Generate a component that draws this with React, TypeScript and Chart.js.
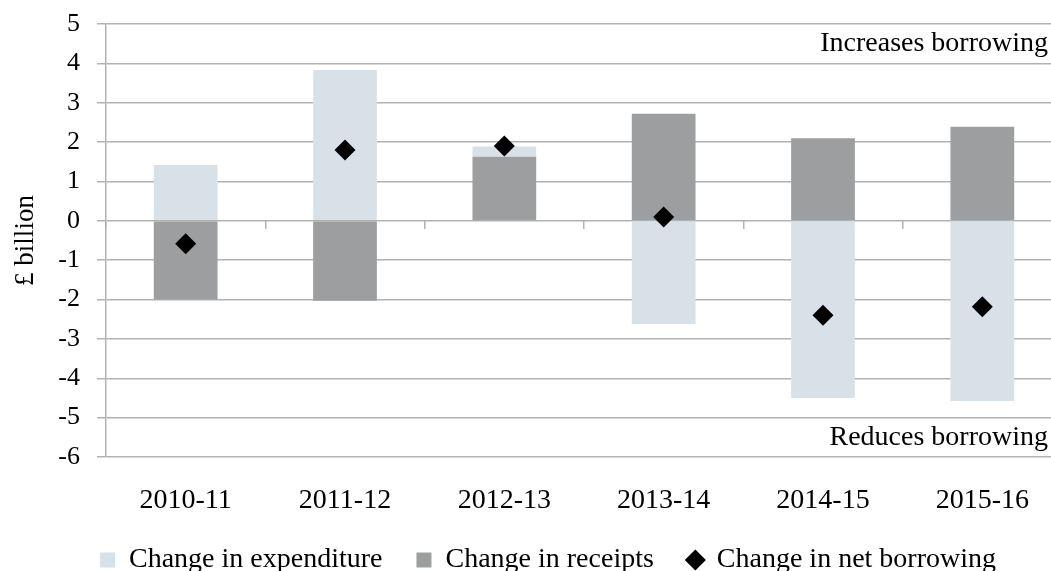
import React, { useEffect, useRef } from 'react';
import { Chart, registerables } from 'chart.js';

Chart.register(...registerables);

const categories = ['2010-11', '2011-12', '2012-13', '2013-14', '2014-15', '2015-16'];
const expenditure = [1.42, 3.83, 0.26, -2.62, -4.5, -4.58];
const receipts = [-2.0, -2.03, 1.63, 2.72, 2.1, 2.39];
const netBorrowing = [-0.58, 1.8, 1.9, 0.1, -2.4, -2.18];
const seriesNames = ['Change in expenditure', 'Change in receipts', 'Change in net borrowing'];
const yMin = -6;
const yMax = 5;
const yStep = 1;
const yTitle = '£ billion';
const noteTexts = ['Increases borrowing', 'Reduces borrowing'];
const noteValues = [4.5, -5.5];

const FONT = "'Liberation Serif', 'Times New Roman', serif";
const GRID = '#b2b2b2';
const LIGHT = '#d9e1e8';
const DARK = '#9d9ea0';

export default function App() {
  const ref = useRef<HTMLCanvasElement>(null);

  useEffect(() => {
    if (!ref.current) return;
    Chart.defaults.font.family = FONT;
    Chart.defaults.color = '#000';

    const notesPlugin = {
      id: 'sideNotes',
      afterDatasetsDraw(chart: any) {
        const { ctx, chartArea, scales } = chart;
        ctx.save();
        ctx.font = `28px ${FONT}`;
        ctx.fillStyle = '#000';
        ctx.textAlign = 'right';
        ctx.textBaseline = 'middle';
        noteTexts.forEach((t, i) => {
          ctx.fillText(t, chartArea.right - 14, scales.y.getPixelForValue(noteValues[i]));
        });
        ctx.restore();
      },
    };

    const legendRank = [1, 0, 2];

    const chart = new Chart(ref.current, {
      type: 'bar',
      data: {
        labels: categories,
        datasets: [
          {
            type: 'bar',
            label: seriesNames[1],
            data: receipts,
            backgroundColor: DARK,
            borderWidth: 0,
            pointStyle: 'rect',
            barPercentage: 0.4,
            categoryPercentage: 1,
            stack: 'flows',
          } as any,
          {
            type: 'bar',
            label: seriesNames[0],
            data: expenditure,
            backgroundColor: LIGHT,
            borderWidth: 0,
            pointStyle: 'rect',
            barPercentage: 0.4,
            categoryPercentage: 1,
            stack: 'flows',
          } as any,
          {
            type: 'line',
            label: seriesNames[2],
            data: netBorrowing,
            showLine: false,
            pointStyle: 'rectRot',
            pointRadius: 10.5,
            pointHoverRadius: 10.5,
            backgroundColor: '#000',
            borderColor: '#000',
            borderWidth: 0,
            pointBorderWidth: 0,
            order: -1,
            stack: 'net',
          } as any,
        ],
      },
      options: {
        animation: false,
        responsive: true,
        maintainAspectRatio: false,
        layout: { padding: { top: 24, left: 0, right: 0, bottom: 0 } },
        plugins: {
          tooltip: { enabled: false },
          legend: {
            position: 'bottom',
            labels: {
              usePointStyle: true,
              boxWidth: 15,
              boxHeight: 15,
              padding: 34,
              font: { size: 28, family: FONT },
              color: '#000',
              sort: (a: any, b: any) => legendRank[a.datasetIndex] - legendRank[b.datasetIndex],
            },
          },
        },
        scales: {
          x: {
            stacked: true,
            grid: { display: false, drawTicks: false, tickLength: 0 },
            border: { display: false },
            ticks: { padding: 30, font: { size: 28, family: FONT, lineHeight: 1 }, color: '#000' },
            afterFit: (s: any) => { s.height = 55; },
          },
          x2: {
            type: 'category',
            labels: categories,
            position: { y: 0 } as any,
            offset: true,
            grid: { offset: true, drawOnChartArea: false, drawTicks: true, tickLength: 8, color: GRID, lineWidth: 1.5 },
            border: { display: false },
            ticks: { display: false },
          },
          y: {
            stacked: true,
            min: yMin,
            max: yMax,
            ticks: { stepSize: yStep, padding: 17, font: { size: 26, family: FONT }, color: '#000' },
            grid: { color: GRID, lineWidth: 1.5, tickLength: 9 },
            border: { display: true, color: GRID, width: 1.5 },
            title: { display: true, text: yTitle, font: { size: 27, family: FONT }, color: '#000', padding: { top: 10, bottom: 0 } },
            afterFit: (s: any) => { s.width = 106; s.paddingTop = 0; s.paddingBottom = 0; },
          },
          y2: {
            position: 'right',
            min: yMin,
            max: yMax,
            grid: { display: false, drawTicks: false },
            border: { display: false },
            ticks: { display: false },
            afterFit: (s: any) => { s.width = 34; s.paddingTop = 0; s.paddingBottom = 0; },
          },
        },
      },
      plugins: [notesPlugin],
    });

    return () => chart.destroy();
  }, []);

  return (
    <div style={{ position: 'fixed', left: 0, top: 0, width: 1051, height: 571, overflow: 'hidden', background: '#fff' }}>
      <div style={{ position: 'relative', width: 1096, height: 584 }}>
        <canvas ref={ref} />
      </div>
    </div>
  );
}
